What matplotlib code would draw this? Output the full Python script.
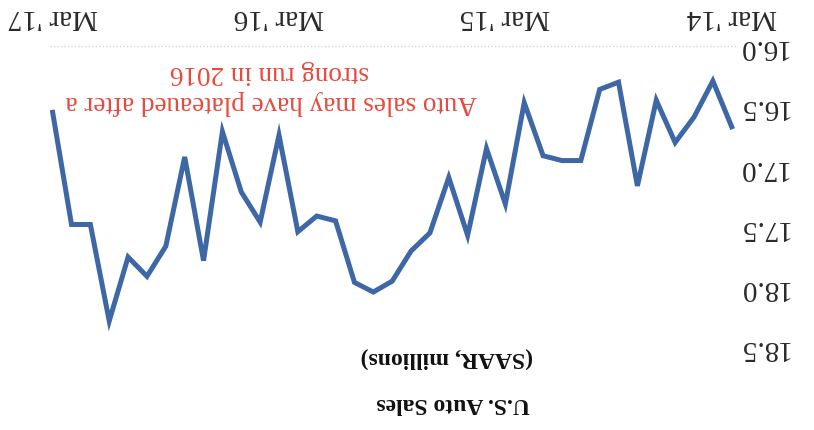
import matplotlib
matplotlib.use("Agg")
import matplotlib.pyplot as plt

plt.rcParams['font.family'] = ['Liberation Serif', 'DejaVu Serif']

# monthly SAAR, Mar 2014 .. Mar 2017
months = list(range(37))
sales = [16.67, 16.29, 16.59, 16.80, 16.45, 17.16, 16.30, 16.36, 16.95, 16.95,
         16.91, 16.47, 17.31, 16.85, 17.57, 17.09, 17.55, 17.70, 17.95, 18.04,
         17.96, 17.45, 17.41, 17.54, 16.74, 17.46, 17.21, 16.71, 17.78, 16.92,
         17.66, 17.91, 17.75, 18.28, 17.48, 17.48, 16.55]
tick_pos = [0, 12, 24, 36]
tick_labels = ["Mar '14", "Mar '15", "Mar '16", "Mar '17"]
y_ticks = [16.0, 16.5, 17.0, 17.5, 18.0, 18.5]
arrow_tail = (34.2, 18.28)
arrow_head = (36.85, 16.58)

W, H = 814, 431
fig = plt.figure(figsize=(W / 100, H / 100), dpi=100, facecolor='white')
ax = fig.add_axes([50 / W, (H - 348.5) / H, 687 / W, 301.5 / H])

blue = '#3d67a5'
red = '#e8493c'

ax.plot(months, sales, color=blue, lw=3.6, solid_joinstyle='miter', zorder=3)

# whole chart is drawn turned half a turn: both axes reversed, text upside down
ax.set_xlim(36.14, -0.28)
ax.set_ylim(18.5, 16.0)

ax.axhline(16.0, color='#d6d6c6', lw=1.0, ls=(0, (1, 1.5)), clip_on=False, zorder=1)

for s in ax.spines.values():
    s.set_visible(False)

ax.xaxis.tick_top()
ax.set_xticks(tick_pos)
ax.set_xticklabels(tick_labels, rotation=180, fontsize=21, color='#2a2a2a')
ax.tick_params(axis='x', length=0, pad=12)

ax.yaxis.tick_right()
ax.set_yticks(y_ticks)
ax.set_yticklabels([f'{v:.1f}' for v in y_ticks], rotation=180, fontsize=21,
                   color='#2a2a2a', va='center')
ax.tick_params(axis='y', length=0, pad=0)

ax.annotate('', xy=arrow_head, xytext=arrow_tail,
            arrowprops=dict(arrowstyle='->', color=red, lw=1.3,
                            mutation_scale=22, shrinkA=0, shrinkB=0))

ax.text(24.4, 16.46, 'Auto sales may have plateaued after a', rotation=180,
        ha='center', va='center', fontsize=19.5, color=red)
ax.text(24.5, 16.21, 'strong run in 2016', rotation=180,
        ha='center', va='center', fontsize=19.5, color=red)

fig.text(530 / W, 1 - 404 / H, 'U.S. Auto Sales', rotation=180, ha='right',
         va='center', fontsize=17, fontweight='bold', color='#111111')
fig.text(533 / W, 1 - 358 / H, '(SAAR, millions)', rotation=180, ha='right',
         va='center', fontsize=17, fontweight='bold', color='#111111')

fig.savefig('out.png', dpi=100, facecolor='white')
